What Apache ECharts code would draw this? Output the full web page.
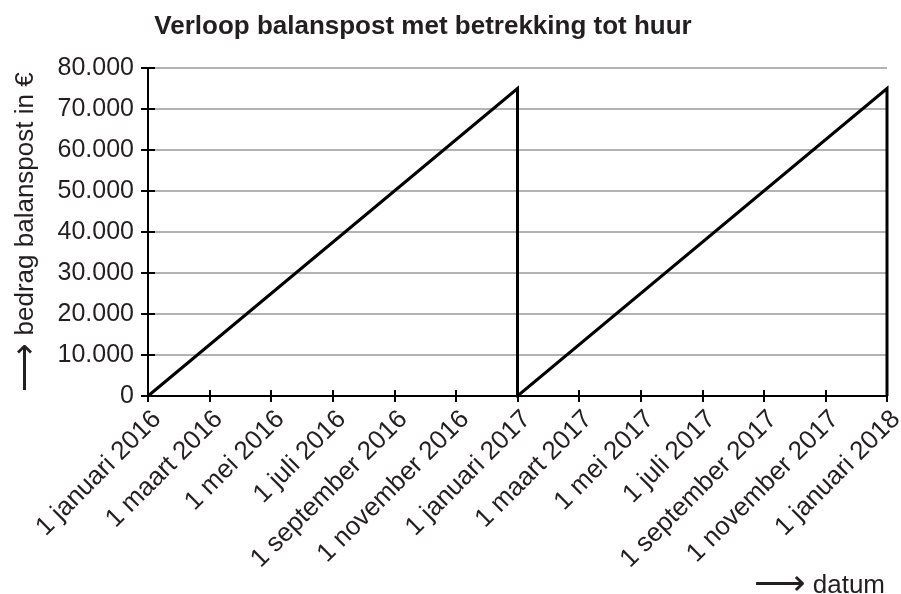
<!DOCTYPE html>
<html>
<head>
<meta charset="utf-8">
<script src="https://cdn.jsdelivr.net/npm/echarts@6/dist/echarts.min.js"></script>
<style>html,body{margin:0;padding:0;background:#fff}#c{width:901px;height:594px}</style>
</head>
<body>
<div id="c"></div>
<script>
// Tick labels on the x axis (every two months)
const xTickLabels = ['1 januari 2016','1 maart 2016','1 mei 2016','1 juli 2016','1 september 2016','1 november 2016','1 januari 2017','1 maart 2017','1 mei 2017','1 juli 2017','1 september 2017','1 november 2017','1 januari 2018'];
// Months since 1 januari 2016
const months = [0, 12, 12, 24, 24];
// Balance amount in euro
const amounts = [0, 75000, 0, 75000, 0];

const fontFam = 'Liberation Sans, Arial, DejaVu Sans, sans-serif';
const arrowFam = 'DejaVu Sans, sans-serif';
const txt = '#231f20';
const chart = echarts.init(document.getElementById('c'), null, {renderer: 'canvas'});
const fmtY = v => v === 0 ? '0' : (v / 1000).toFixed(0) + '.000';
const fmtX = v => xTickLabels[Math.round(v / 2)] || '';
const baseX = {
  type: 'value', min: 0, max: 24, interval: 2, position: 'bottom',
  axisLine: {show: true, onZero: false, lineStyle: {color: '#000', width: 2}},
  splitLine: {show: false}
};
const baseY = {
  type: 'value', min: 0, max: 80000, interval: 10000, position: 'left',
  axisLine: {show: true, onZero: false, lineStyle: {color: '#000', width: 2}}
};
chart.setOption({
  animation: false,
  title: {
    text: 'Verloop balanspost met betrekking tot huur',
    left: 418, top: 9, textAlign: 'center',
    textStyle: {fontFamily: fontFam, fontWeight: 'bold', fontSize: 26, color: txt}
  },
  grid: {left: 148, right: 14, top: 68, bottom: 198, containLabel: false, outerBoundsMode: 'none'},
  xAxis: [
    Object.assign({}, baseX, {
      axisTick: {show: true, inside: false, length: 6, lineStyle: {color: '#000', width: 2}},
      axisLabel: {rotate: 45, margin: 10, align: 'right', verticalAlign: 'top', lineHeight: 26,
        fontSize: 26, fontFamily: fontFam, color: txt, formatter: fmtX}
    }),
    Object.assign({}, baseX, {
      axisTick: {show: true, inside: true, length: 6, lineStyle: {color: '#000', width: 2}},
      axisLabel: {show: false}
    })
  ],
  yAxis: [
    Object.assign({}, baseY, {
      name: '{a|⟶} bedrag balanspost in €', nameLocation: 'middle', nameGap: 107, nameRotate: 90,
      nameTextStyle: {fontSize: 26, fontFamily: fontFam, color: txt, lineHeight: 30,
        rich: {a: {fontSize: 34, lineHeight: 30, fontFamily: arrowFam, fontWeight: 200, color: txt}}},
      axisTick: {show: true, inside: false, length: 7, lineStyle: {color: '#000', width: 2}},
      axisLabel: {margin: 14, fontSize: 25, fontFamily: fontFam, color: txt, formatter: fmtY},
      splitLine: {show: true, lineStyle: {color: '#9a9a9a', width: 1.5}}
    }),
    Object.assign({}, baseY, {
      axisTick: {show: true, inside: true, length: 7, lineStyle: {color: '#000', width: 2}},
      axisLabel: {show: false},
      splitLine: {show: false}
    })
  ],
  graphic: [{
    type: 'text', right: 16, top: 568,
    style: {text: '{a|⟶} {b|datum}', fontSize: 26, fontFamily: fontFam, fill: txt, lineHeight: 30,
      rich: {a: {fontSize: 36, lineHeight: 30, fontFamily: arrowFam, fontWeight: 200, fill: txt},
             b: {fontSize: 26, lineHeight: 30, fontFamily: fontFam, fill: txt}}}
  }],
  series: [{
    type: 'line', xAxisIndex: 0, yAxisIndex: 0, symbol: 'none',
    data: months.map((m, i) => [m, amounts[i]]),
    lineStyle: {color: '#000', width: 3, join: 'miter'}
  }]
});
</script>
</body>
</html>
